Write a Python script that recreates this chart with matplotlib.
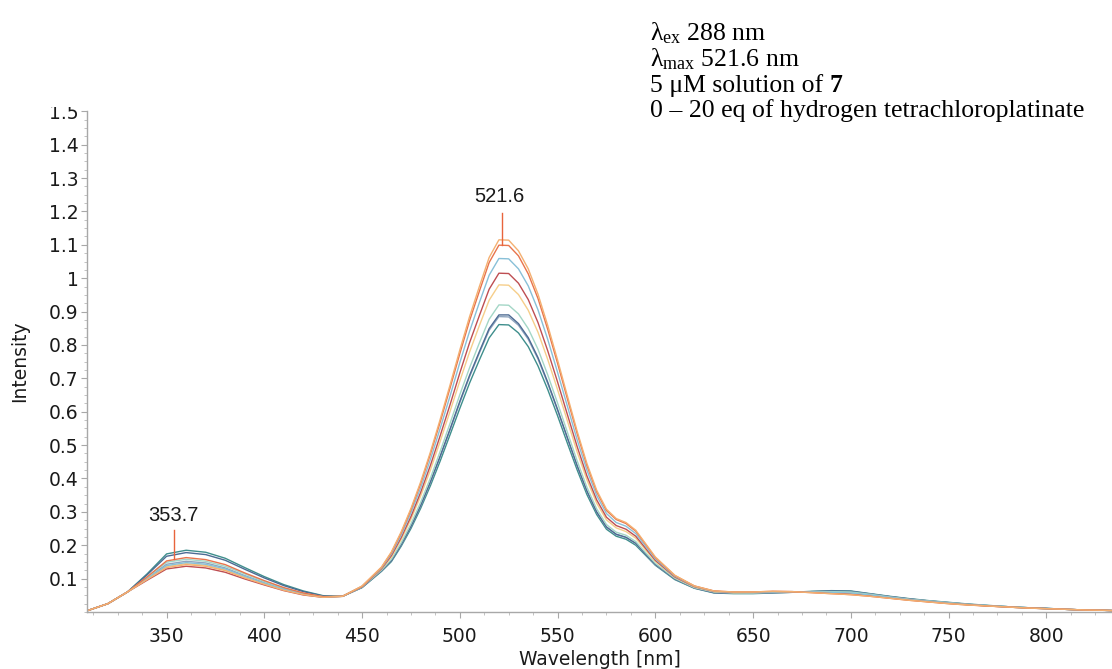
import matplotlib
matplotlib.use("Agg")
import matplotlib.pyplot as plt
from matplotlib.ticker import FixedLocator, MultipleLocator, FuncFormatter
from matplotlib.patches import Rectangle

plt.rcParams['mathtext.fontset'] = 'custom'
plt.rcParams['mathtext.rm'] = 'Liberation Serif'
plt.rcParams['mathtext.it'] = 'Liberation Serif:italic'
plt.rcParams['mathtext.bf'] = 'Liberation Serif:bold'

# wavelength grid (nm)
wavelength = (list(range(310, 461, 10)) + list(range(465, 601, 5))
              + list(range(610, 831, 10)) + [835])

# intensity series
s_light_orange = [.005,.025,.060,.097,.133,.142,.137,.124,.102,.083,.065,.052,.044,.047,.078,.135,
    .180,.240,.310,.390,.480,.578,.680,.785,.885,.975,1.062,1.115,1.114,1.082,1.028,.952,.858,.755,.648,.542,.445,.365,.308,.280,.268,.245,.205,.165,
    .110,.078,.063,.060,.060,.062,.061,.058,.055,.052,.047,.041,.035,.030,.025,.021,.018,.015,.012,.010,.008,.006,.005,.004]
s_orange_red = [.005,.025,.060,.105,.153,.163,.157,.142,.117,.094,.073,.057,.046,.047,.077,.134,
    .178,.237,.306,.385,.474,.570,.671,.774,.873,.961,1.047,1.099,1.098,1.067,1.013,.939,.846,.745,.639,.535,.439,.360,.304,.277,.265,.242,.203,.163,
    .109,.078,.063,.060,.060,.062,.061,.058,.055,.052,.047,.041,.035,.030,.025,.021,.018,.015,.012,.010,.008,.006,.005,.004]
s_light_blue = [.005,.025,.060,.099,.139,.148,.143,.129,.107,.086,.068,.054,.045,.047,.077,.132,
    .174,.230,.297,.372,.458,.551,.647,.747,.841,.927,1.009,1.059,1.058,1.028,.977,.905,.816,.718,.617,.516,.425,.349,.295,.268,.257,.235,.197,.159,
    .107,.077,.062,.059,.058,.060,.061,.060,.059,.057,.051,.044,.037,.032,.027,.022,.019,.015,.012,.010,.008,.006,.005,.004]
s_dark_red = [.005,.025,.060,.095,.129,.137,.132,.119,.099,.081,.064,.051,.044,.047,.076,.130,
    .169,.223,.286,.359,.440,.529,.621,.716,.807,.888,.967,1.015,1.014,.985,.936,.867,.782,.689,.592,.496,.408,.336,.284,.259,.248,.227,.191,.155,
    .105,.076,.062,.059,.059,.061,.061,.059,.057,.054,.049,.042,.036,.031,.026,.022,.018,.015,.012,.010,.008,.006,.005,.004]
s_light_yellow = [.005,.025,.060,.098,.136,.145,.140,.126,.104,.084,.066,.053,.045,.047,.076,.129,
    .165,.217,.278,.348,.426,.512,.601,.692,.779,.858,.934,.980,.979,.951,.904,.838,.756,.666,.573,.480,.396,.326,.276,.252,.241,.221,.186,.152,
    .104,.075,.061,.058,.058,.060,.060,.059,.058,.056,.050,.043,.037,.031,.026,.022,.018,.015,.012,.010,.008,.006,.005,.004]
s_light_teal = [.005,.025,.060,.103,.149,.158,.152,.137,.114,.091,.071,.056,.046,.047,.075,.126,
    .158,.207,.264,.329,.402,.482,.565,.651,.732,.806,.877,.920,.919,.893,.849,.787,.710,.626,.539,.453,.374,.309,.262,.239,.230,.211,.178,.146,
    .101,.073,.060,.057,.057,.059,.060,.061,.061,.060,.053,.045,.038,.033,.028,.023,.019,.016,.013,.010,.008,.006,.005,.004]
s_dark_slate = [.005,.025,.060,.111,.167,.178,.172,.155,.128,.102,.079,.061,.048,.047,.074,.124,
    .154,.202,.257,.320,.391,.468,.548,.631,.709,.780,.849,.890,.890,.864,.822,.762,.688,.607,.523,.439,.363,.300,.255,.233,.224,.206,.174,.143,
    .099,.072,.058,.056,.056,.058,.059,.061,.063,.062,.054,.046,.039,.033,.028,.023,.019,.016,.013,.011,.008,.006,.005,.004]
s_gray_blue = [.005,.025,.060,.101,.143,.152,.147,.132,.109,.088,.069,.055,.045,.047,.074,.124,
    .154,.201,.256,.318,.388,.465,.545,.627,.705,.776,.844,.885,.884,.859,.817,.758,.684,.604,.520,.437,.361,.299,.254,.232,.223,.205,.173,.142,
    .099,.072,.058,.056,.056,.058,.059,.061,.062,.061,.054,.046,.039,.033,.028,.023,.019,.016,.013,.010,.008,.006,.005,.004]
s_teal = [.005,.025,.060,.114,.174,.185,.179,.161,.133,.106,.082,.063,.049,.047,.073,.122,
    .151,.197,.250,.311,.379,.453,.531,.610,.686,.755,.821,.861,.860,.836,.795,.737,.666,.588,.506,.426,.352,.292,.248,.227,.218,.200,.170,.140,
    .097,.071,.057,.055,.055,.057,.059,.062,.064,.063,.055,.047,.040,.034,.029,.024,.020,.016,.013,.011,.008,.006,.005,.004]

series = [
    (s_teal, '#3E8E8C'),
    (s_gray_blue, '#8FA5BE'),
    (s_dark_slate, '#4D6B93'),
    (s_light_teal, '#A3D6C6'),
    (s_light_yellow, '#F6CE8A'),
    (s_dark_red, '#BE4E52'),
    (s_light_blue, '#88C0D8'),
    (s_orange_red, '#E8744C'),
    (s_light_orange, '#F4B071'),
]

y_ticks = [0.1, 0.2, 0.3, 0.4, 0.5, 0.6, 0.7, 0.8, 0.9, 1.0, 1.1, 1.2, 1.3, 1.4, 1.5]
x_ticks = [350, 400, 450, 500, 550, 600, 650, 700, 750, 800]
peak_main = (521.6, 1.099)
peak_side = (353.7, 0.160)

W, H = 1112, 669
fig = plt.figure(figsize=(W / 100, H / 100), dpi=100)
ax = fig.add_axes([87 / W, (H - 612) / H, 1 - 87 / W, (612 - 111.3) / H])

for vals, col in series:
    ax.plot(wavelength, vals, color=col, lw=1.0, solid_joinstyle='round')

ax.set_xlim(309.3, 833.6)
ax.set_ylim(0, 1.5)

for sp in ['top', 'right']:
    ax.spines[sp].set_visible(False)
for sp in ['left', 'bottom']:
    ax.spines[sp].set_color('#a8a8a8')
    ax.spines[sp].set_linewidth(1.0)

ax.yaxis.set_major_locator(FixedLocator(y_ticks))
ax.yaxis.set_minor_locator(MultipleLocator(0.025))
ax.xaxis.set_major_locator(FixedLocator(x_ticks))
ax.xaxis.set_minor_locator(MultipleLocator(12.5))
ax.yaxis.set_major_formatter(FuncFormatter(lambda v, p: ('%g' % round(v, 2))))

ax.tick_params(axis='both', which='major', length=4, width=0.8, color='#a8a8a8',
               labelsize=13.5, labelcolor='#1a1a1a')
ax.tick_params(axis='x', which='major', pad=7)
ax.tick_params(axis='y', which='major', pad=2)
ax.tick_params(axis='both', which='minor', length=2.5, width=0.6, color='#b8b8b8')

ax.set_xlabel('Wavelength [nm]', fontsize=13.5, color='#1a1a1a', labelpad=3)
ax.set_ylabel('Intensity', fontsize=13.5, color='#1a1a1a', labelpad=14)

# peak annotations
ann_col = '#E8643C'
ax.plot([peak_main[0], peak_main[0]], [1.195, peak_main[1]], color=ann_col, lw=1.0)
ax.text(peak_main[0] - 1.5, 1.215, '521.6', ha='center', va='bottom',
        fontsize=14.5, family='Liberation Sans', color='#1a1a1a')
ax.plot([peak_side[0], peak_side[0]], [0.245, peak_side[1]], color=ann_col, lw=1.0)
ax.text(peak_side[0], 0.262, '353.7', ha='center', va='bottom',
        fontsize=14.5, family='Liberation Sans', color='#1a1a1a')

# white box (cuts the top of the uppermost tick label, as in the source)
fig.add_artist(Rectangle((0, (H - 106.5) / H), 1, 106.5 / H, transform=fig.transFigure,
                         facecolor='white', edgecolor='none', zorder=10))

tx = 650 / W
fs = 18.5
fam = 'Liberation Serif'
fig.text(tx, 1 - 40 / H, r'λ$_{\mathrm{ex}}$ 288 nm', fontsize=fs, family=fam, zorder=11, va='baseline')
fig.text(tx, 1 - 66 / H, r'λ$_{\mathrm{max}}$ 521.6 nm', fontsize=fs, family=fam, zorder=11, va='baseline')
t3 = fig.text(tx, 1 - 92 / H, '5 μM solution of ', fontsize=fs, family=fam, zorder=11, va='baseline')
fig.canvas.draw()
bb = t3.get_window_extent()
fig.text(bb.x1 / W, 1 - 92 / H, '7', fontsize=fs, family=fam, weight='bold', zorder=11, va='baseline')
fig.text(tx, 1 - 117 / H, '0 – 20 eq of hydrogen tetrachloroplatinate', fontsize=fs, family=fam,
         zorder=11, va='baseline')

fig.savefig('out.png', dpi=100, facecolor='white')
